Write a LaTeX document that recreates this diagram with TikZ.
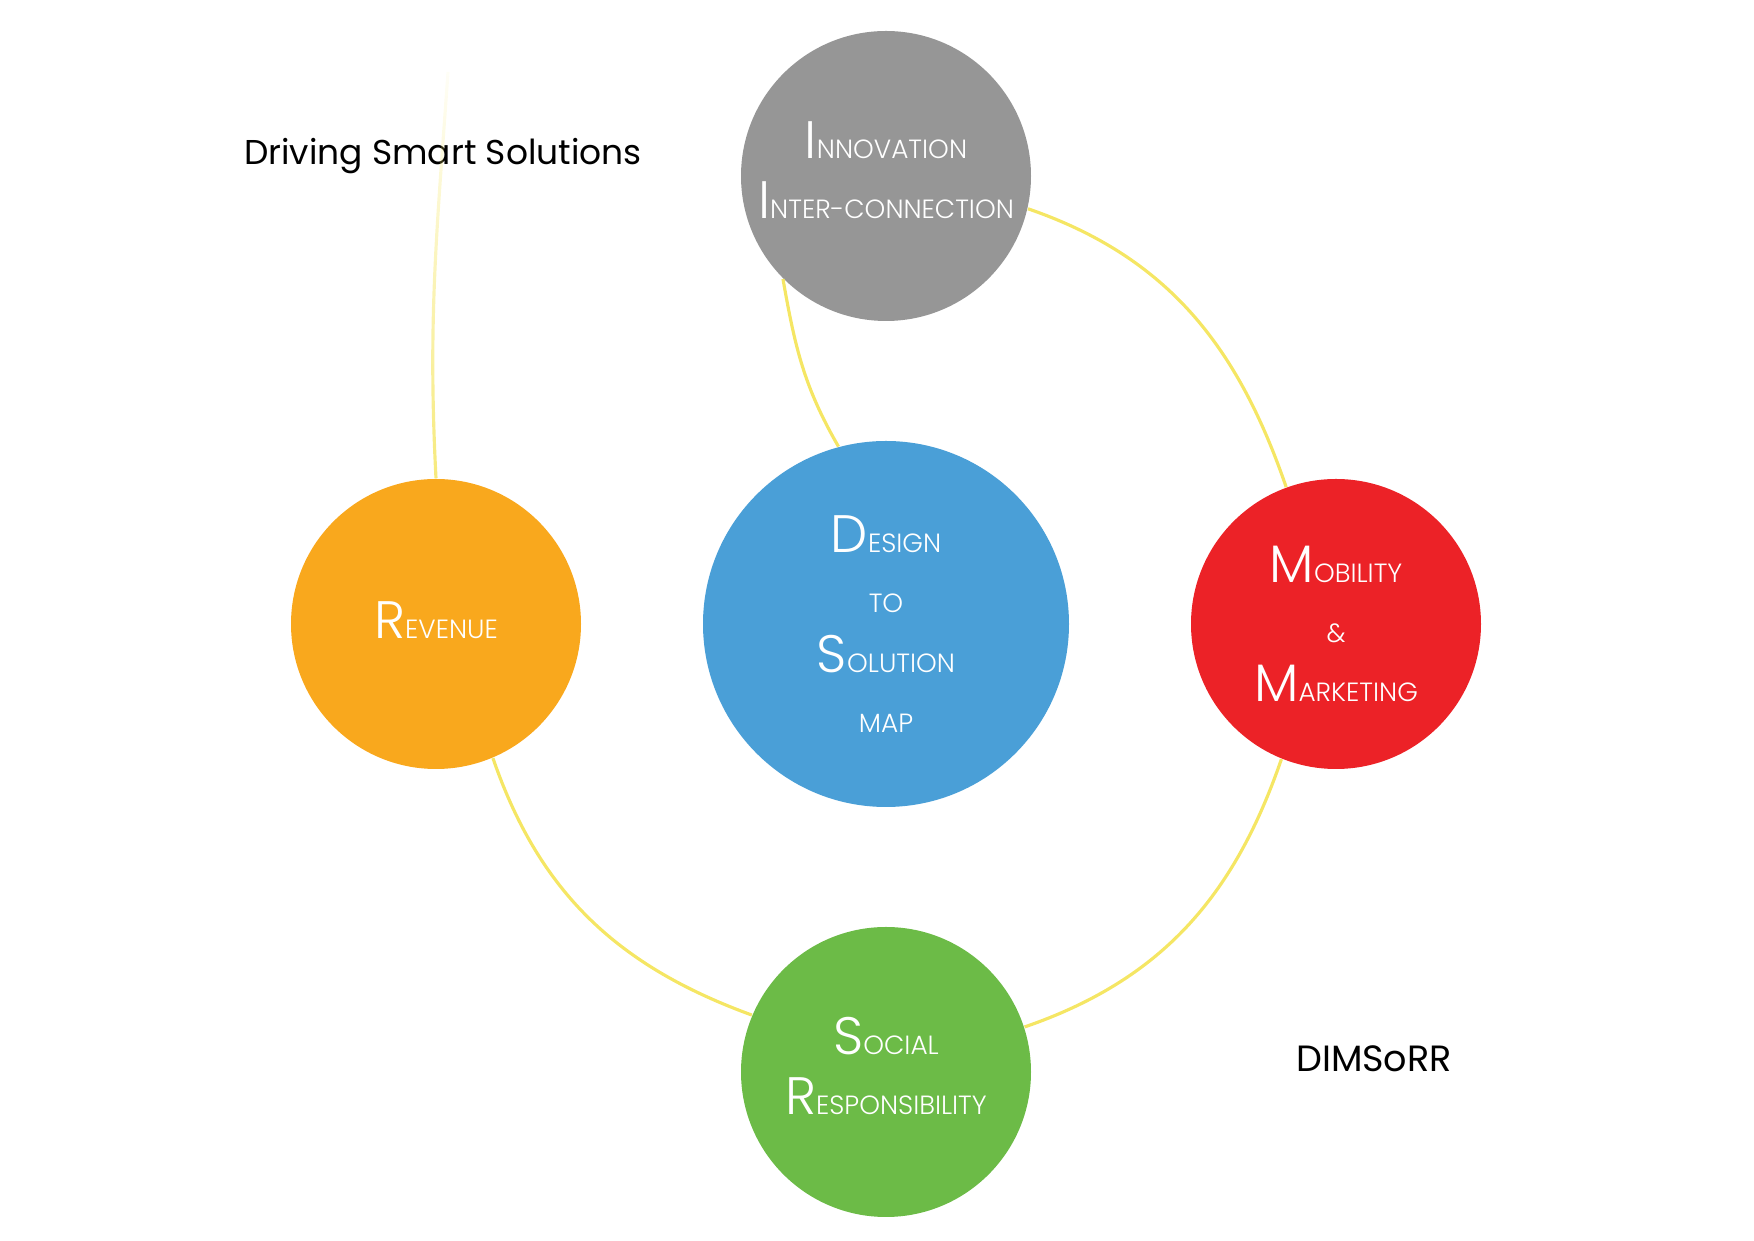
\documentclass[tikz,border=0pt]{standalone}
\usepackage{fontspec}
\setmainfont{Poppins}
\newfontfamily\thinfont{Poppins Light}
\usetikzlibrary{fadings}

\definecolor{innoGray}{RGB}{150,150,150}
\definecolor{designBlue}{RGB}{74,159,215}
\definecolor{mobRed}{RGB}{236,34,39}
\definecolor{socGreen}{RGB}{108,187,71}
\definecolor{revOrange}{RGB}{249,168,29}
\definecolor{linkYellow}{RGB}{245,230,100}

\newcommand\midX{8.86}
\newcommand\midY{6.17}
\newcommand\orbit{4.48}
\newcommand\smallCirc{2.9cm}
\newcommand\bigCirc{3.66cm}
\newcommand\capLetter[2]{{\fontsize{15}{17}\selectfont #1}#2}

\tikzfading[name=fadeup, top color=transparent!95, bottom color=transparent!15]

\begin{document}
\begin{tikzpicture}[
    every node/.style={text=white, align=center, font=\thinfont\fontsize{7.5}{17}\selectfont},
    ring/.style={circle, minimum size=\smallCirc, inner sep=0pt},
    link/.style={draw=linkYellow, line width=0.9pt}]

    \useasboundingbox (0,0) rectangle (17.54,12.41);

    \node[ring, fill=innoGray, text depth=0.12cm] (innov) at (\midX,\midY+\orbit) {\capLetter{I}{NNOVATION}\\\capLetter{I}{NTER-CONNECTION}};
    \node[ring, fill=designBlue, minimum size=\bigCirc] (design) at (\midX,\midY) {\capLetter{D}{ESIGN}\\TO\\\capLetter{S}{OLUTION}\\MAP};
    \node[ring, fill=revOrange, text depth=0.07cm] (reven) at (\midX-4.5,\midY) {\capLetter{R}{EVENUE}};
    \node[ring, fill=mobRed] (mobil) at (\midX+4.5,\midY) {\capLetter{M}{OBILITY}\\\&\\\capLetter{M}{ARKETING}};
    \node[ring, fill=socGreen, text depth=0.12cm] (social) at (\midX,\midY-\orbit) {\capLetter{S}{OCIAL}\\\capLetter{R}{ESPONSIBILITY}};

    \node[text=black, anchor=base, font=\fontsize{9.8}{12}\selectfont] (slogan) at (4.43,10.76) {Driving Smart Solutions};
    \node[text=black, anchor=base, font=\fontsize{10.4}{12}\selectfont] (brand) at (13.74,1.69) {DIMSoRR};

    \coordinate (topEnd) at (4.48,11.69);

    % links round the map
    \draw[link] (innov.-13) to[out=-19,in=109] (mobil.110);
    \draw[link] (mobil.-112) to[out=-109,in=19] (social.18);
    \draw[link] (reven.-67) to[out=-71,in=160] (social.157);
    \draw[link] (innov.-135) to[out=-80,in=120] (design.105);
    \draw[link, path fading=fadeup] (reven.north) to[out=93,in=-94] (topEnd);

\end{tikzpicture}
\end{document}
